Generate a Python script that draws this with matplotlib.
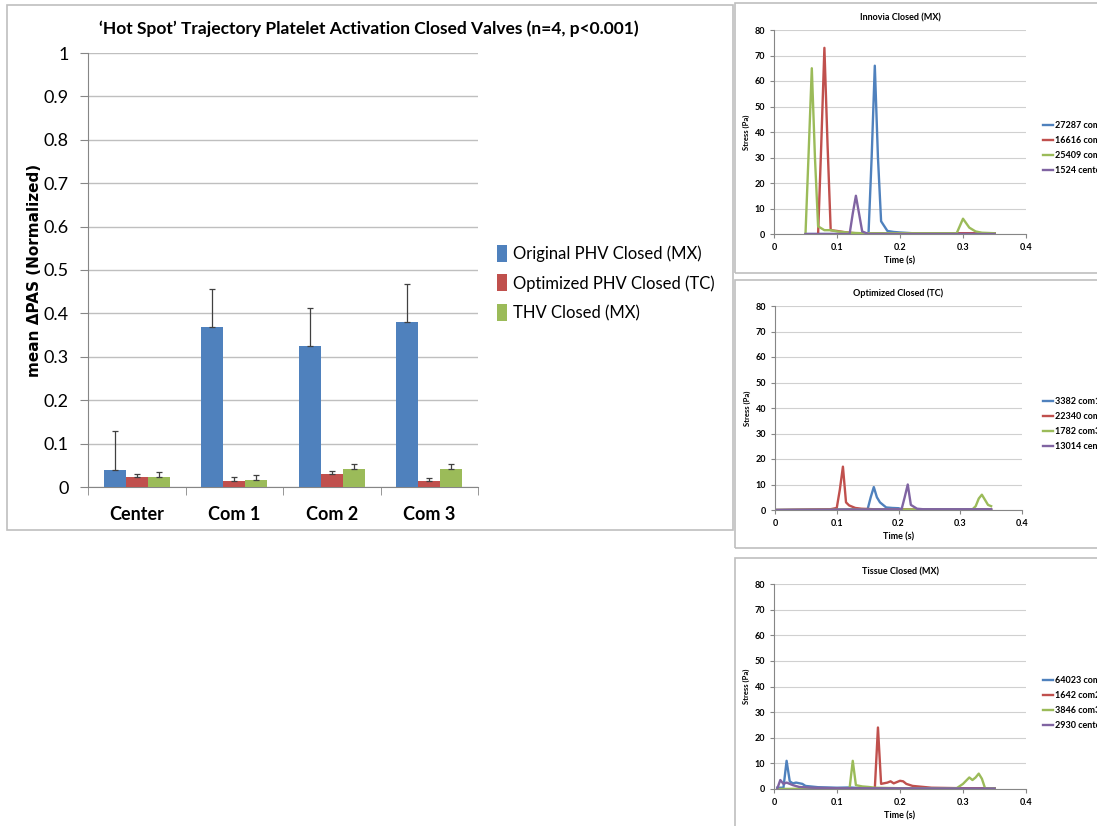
import numpy as np
import matplotlib
matplotlib.use("Agg")
import matplotlib.pyplot as plt
from matplotlib.patches import Rectangle

plt.rcParams['font.family'] = ['Lato', 'DejaVu Sans']

# ---- bar chart data ----
categories = ["Center", "Com 1", "Com 2", "Com 3"]
series_names = ["Original PHV Closed (MX)", "Optimized PHV Closed (TC)", "THV Closed (MX)"]
original_mean = [0.040, 0.368, 0.325, 0.380]
original_err = [0.088, 0.088, 0.087, 0.087]
optimized_mean = [0.023, 0.013, 0.029, 0.013]
optimized_err = [0.007, 0.009, 0.008, 0.007]
thv_mean = [0.023, 0.016, 0.041, 0.041]
thv_err = [0.012, 0.012, 0.013, 0.013]
y_ticks = [0, 0.1, 0.2, 0.3, 0.4, 0.5, 0.6, 0.7, 0.8, 0.9, 1]
y_ticklabels = ["0", "0.1", "0.2", "0.3", "0.4", "0.5", "0.6", "0.7", "0.8", "0.9", "1"]

BLUE, RED, GREEN, PURPLE = "#4F81BD", "#C0504D", "#9BBB59", "#8064A2"

# ---- stress traces (time s, stress Pa) ----
innovia_labels = ["27287 com1", "16616 com2", "25409 com3", "1524 center"]
innovia_com1_t = [0.05, 0.15, 0.155, 0.16, 0.165, 0.17, 0.18, 0.19, 0.20, 0.22, 0.35]
innovia_com1_s = [0.0, 0.0, 30.0, 66.0, 30.0, 5.0, 1.2, 0.8, 0.6, 0.3, 0.3]
innovia_com2_t = [0.07, 0.075, 0.08, 0.085, 0.09, 0.10, 0.11, 0.12, 0.13, 0.35]
innovia_com2_s = [0.0, 35.0, 73.0, 35.0, 1.5, 1.2, 0.8, 0.5, 0.3, 0.3]
innovia_com3_t = [0.05, 0.055, 0.06, 0.065, 0.07, 0.08, 0.09, 0.10, 0.12, 0.14, 0.29, 0.30, 0.31, 0.32, 0.33, 0.35]
innovia_com3_s = [0.0, 32.0, 65.0, 30.0, 3.0, 1.5, 1.5, 1.0, 0.5, 0.3, 0.3, 6.0, 2.5, 1.0, 0.5, 0.3]
innovia_center_t = [0.05, 0.12, 0.125, 0.13, 0.135, 0.14, 0.15, 0.35]
innovia_center_s = [0.0, 0.0, 8.0, 15.0, 8.0, 1.0, 0.0, 0.0]

optimized_labels = ["3382 com1", "22340 com2", "1782 com3", "13014 center"]
optimized_com1_t = [0.0, 0.15, 0.155, 0.16, 0.165, 0.17, 0.18, 0.19, 0.20, 0.205, 0.21, 0.35]
optimized_com1_s = [0.0, 0.3, 5.0, 9.0, 5.0, 3.0, 1.0, 0.8, 0.7, 0.3, 0.0, 0.0]
optimized_com2_t = [0.0, 0.09, 0.10, 0.105, 0.11, 0.115, 0.12, 0.13, 0.14, 0.16, 0.35]
optimized_com2_s = [0.0, 0.3, 0.8, 8.0, 17.0, 3.0, 1.8, 0.8, 0.5, 0.3, 0.2]
optimized_com3_t = [0.0, 0.32, 0.325, 0.33, 0.335, 0.34, 0.345, 0.35]
optimized_com3_s = [0.0, 0.3, 1.5, 4.5, 6.0, 4.0, 2.0, 1.5]
optimized_center_t = [0.0, 0.205, 0.21, 0.215, 0.22, 0.23, 0.24, 0.35]
optimized_center_s = [0.0, 0.3, 5.0, 10.0, 2.0, 0.5, 0.3, 0.3]

tissue_labels = ["64023 com1", "1642 com2", "3846 com3", "2930 center"]
tissue_com1_t = [0.005, 0.015, 0.02, 0.025, 0.03, 0.035, 0.045, 0.05, 0.07, 0.10, 0.12, 0.14, 0.35]
tissue_com1_s = [0.5, 0.5, 11.0, 3.0, 2.2, 2.5, 2.0, 1.2, 0.7, 0.5, 0.6, 0.3, 0.3]
tissue_com2_t = [0.16, 0.165, 0.17, 0.18, 0.185, 0.19, 0.20, 0.205, 0.21, 0.22, 0.25, 0.30, 0.35]
tissue_com2_s = [0.0, 24.0, 2.0, 2.5, 3.0, 2.2, 3.2, 3.0, 2.0, 1.2, 0.5, 0.3, 0.3]
tissue_com3_t = [0.005, 0.12, 0.125, 0.13, 0.14, 0.15, 0.16, 0.20, 0.29, 0.30, 0.31, 0.315, 0.32, 0.325, 0.33, 0.335, 0.35]
tissue_com3_s = [0.0, 0.3, 11.0, 1.5, 1.0, 0.8, 0.5, 0.3, 0.3, 2.0, 4.5, 3.5, 4.5, 6.0, 4.0, 0.3, 0.3]
tissue_center_t = [0.005, 0.01, 0.015, 0.02, 0.025, 0.03, 0.04, 0.06, 0.10, 0.35]
tissue_center_s = [0.0, 3.5, 2.0, 2.5, 2.0, 1.5, 0.8, 0.5, 0.3, 0.2]

fig = plt.figure(figsize=(10.97, 8.26), dpi=100)

# chart frames
for (x0, y0, x1, y1) in [(7, 5, 733, 530), (735, 3, 1110, 273), (735, 280, 1110, 548), (735, 558, 1110, 840)]:
    fig.patches.append(Rectangle((x0 / 1097, 1 - y1 / 826), (x1 - x0) / 1097, (y1 - y0) / 826,
                                 transform=fig.transFigure, fill=False, edgecolor="#BFBFBF", lw=1.2))

# ---- main grouped bar chart ----
ax = fig.add_axes([88 / 1097, 1 - 487 / 826, 390 / 1097, 434 / 826])
x = np.arange(len(categories))
w = 0.225
err_kw = dict(ecolor="#404040", elinewidth=0.9, capsize=2.5, capthick=0.9)
for off, means, errs, color, name in [(-w, original_mean, original_err, BLUE, series_names[0]),
                                      (0, optimized_mean, optimized_err, RED, series_names[1]),
                                      (w, thv_mean, thv_err, GREEN, series_names[2])]:
    ax.bar(x + off, means, w, color=color, label=name, zorder=3,
           yerr=[np.zeros(len(errs)), errs], error_kw=err_kw)

ax.set_xlim(-0.5, 3.5)
ax.set_ylim(0, 1)
ax.set_yticks(y_ticks)
ax.set_yticklabels(y_ticklabels, fontsize=13)
ax.yaxis.grid(True, color="#BFBFBF", lw=1.0, zorder=0)
ax.set_axisbelow(True)
ax.set_xticks(x)
ax.set_xticklabels(categories, fontsize=13, fontweight="bold")
ax.set_xticks(np.arange(-0.5, 4.0, 1.0), minor=True)
ax.tick_params(axis="x", which="major", length=0, pad=14)
ax.tick_params(axis="x", which="minor", length=6, color="#868686")
ax.tick_params(axis="y", length=6, color="#868686", pad=8)
for s in ["top", "right"]:
    ax.spines[s].set_visible(False)
for s in ["left", "bottom"]:
    ax.spines[s].set_color("#868686")
ax.set_ylabel("mean ΔPAS (Normalized)", fontsize=11, fontweight="bold",
              family=["DejaVu Sans"], labelpad=1)
ax.set_title("‘Hot Spot’ Trajectory Platelet Activation Closed Valves (n=4, p<0.001)",
             fontsize=12.5, fontweight="bold", x=0.72, pad=14)
ax.legend(loc="center left", bbox_to_anchor=(497 / 1097, 1 - 283 / 826),
          bbox_transform=fig.transFigure, frameon=False, fontsize=12,
          handlelength=0.6, handleheight=1.2, handletextpad=0.35, labelspacing=0.75,
          borderpad=0, borderaxespad=0)


# ---- small stress panels ----
def stress_panel(rect, title, traces, labels, legend_y):
    a = fig.add_axes(rect)
    for (t, s), color, lab in zip(traces, [BLUE, RED, GREEN, PURPLE], labels):
        a.plot(t, s, color=color, lw=1.7, label=lab, solid_joinstyle="round")
    a.set_xlim(0, 0.4)
    a.set_ylim(0, 80)
    a.set_xticks([0, 0.1, 0.2, 0.3, 0.4])
    a.set_xticklabels(["0", "0.1", "0.2", "0.3", "0.4"])
    a.set_yticks(range(0, 81, 10))
    a.yaxis.grid(True, color="#D0D0D0", lw=0.8)
    a.set_axisbelow(True)
    a.tick_params(labelsize=6.5, length=3, color="#868686")
    for lbl in a.get_xticklabels() + a.get_yticklabels():
        lbl.set_fontweight("bold")
    for s in ["top", "right"]:
        a.spines[s].set_visible(False)
    for s in ["left", "bottom"]:
        a.spines[s].set_color("#868686")
    a.set_xlabel("Time (s)", fontsize=6.5, fontweight="bold", labelpad=3)
    a.set_ylabel("Stress (Pa)", fontsize=5.5, fontweight="bold", labelpad=3)
    a.set_title(title, fontsize=6.5, fontweight="bold", pad=7)
    a.legend(loc="center left", bbox_to_anchor=(1039 / 1097, legend_y),
             bbox_transform=fig.transFigure, frameon=False,
             prop=dict(size=6.5, weight="bold"), handlelength=1.2,
             handletextpad=0.2, labelspacing=0.65, borderaxespad=0)
    return a


stress_panel([774 / 1097, 1 - 234 / 826, 252 / 1097, 204 / 826], "Innovia Closed (MX)",
             [(innovia_com1_t, innovia_com1_s), (innovia_com2_t, innovia_com2_s),
              (innovia_com3_t, innovia_com3_s), (innovia_center_t, innovia_center_s)],
             innovia_labels, 1 - 148 / 826)
stress_panel([775 / 1097, 1 - 510 / 826, 247 / 1097, 204 / 826], "Optimized Closed (TC)",
             [(optimized_com1_t, optimized_com1_s), (optimized_com2_t, optimized_com2_s),
              (optimized_com3_t, optimized_com3_s), (optimized_center_t, optimized_center_s)],
             optimized_labels, 1 - 424 / 826)
stress_panel([774 / 1097, 1 - 789 / 826, 252 / 1097, 205 / 826], "Tissue Closed (MX)",
             [(tissue_com1_t, tissue_com1_s), (tissue_com2_t, tissue_com2_s),
              (tissue_com3_t, tissue_com3_s), (tissue_center_t, tissue_center_s)],
             tissue_labels, 1 - 703 / 826)

fig.savefig("out.png", dpi=100)
